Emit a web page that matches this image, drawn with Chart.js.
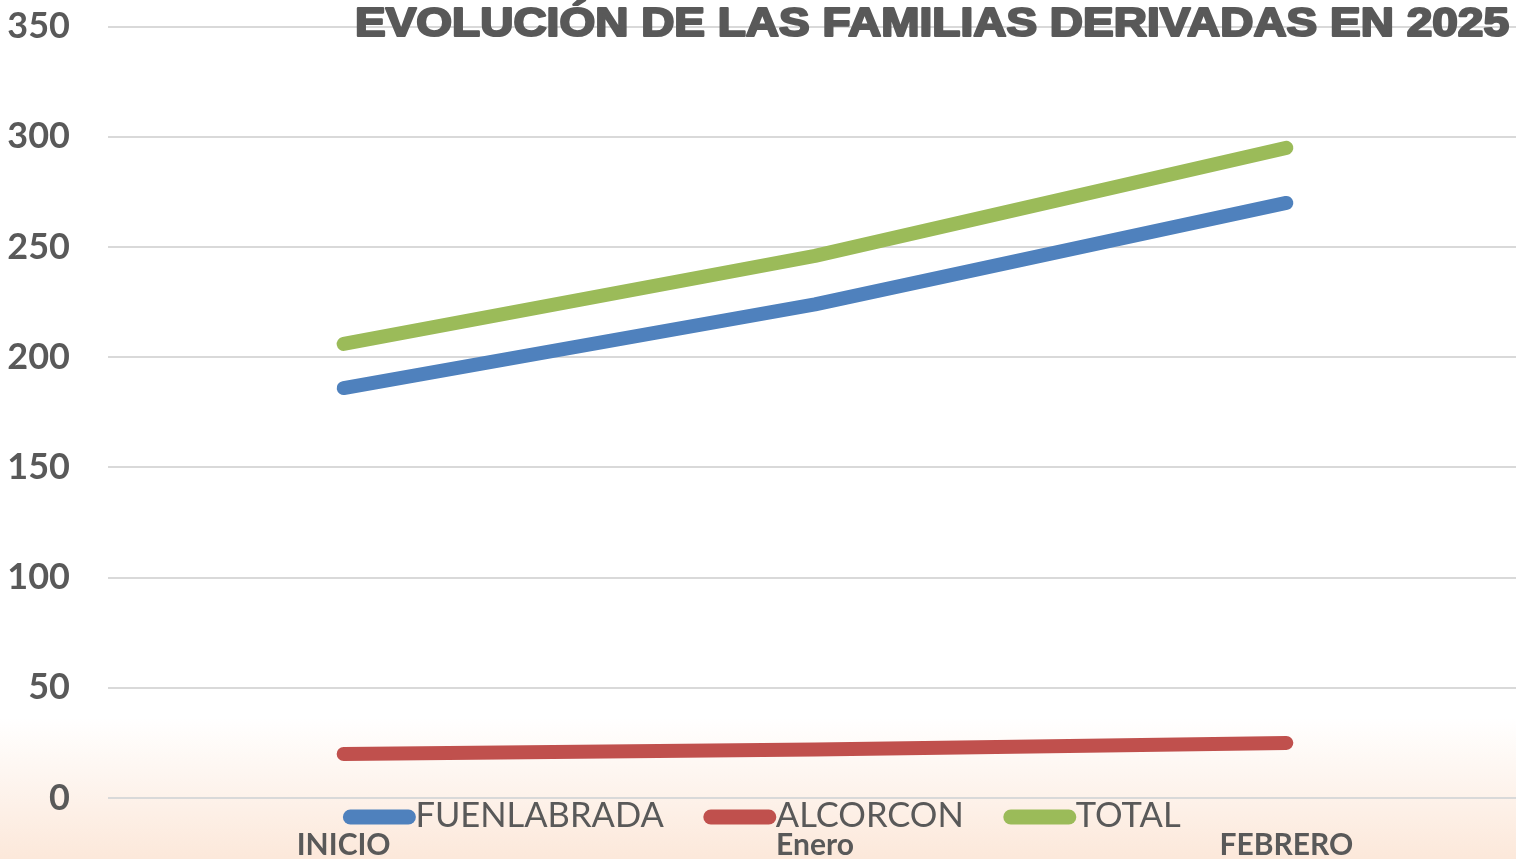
<!DOCTYPE html>
<html>
<head>
<meta charset="utf-8">
<script src="https://cdn.jsdelivr.net/npm/chart.js@4"></script>
<style>
html,body{margin:0;padding:0;background:#fff;overflow:hidden;}
#wrap{width:1516px;height:859px;position:relative;overflow:hidden;}
#c{position:absolute;left:0;top:-33px;}
</style>
</head>
<body>
<div id="wrap"><canvas id="c" width="1522" height="892"></canvas></div>
<script>
const categories = ["INICIO", "Enero", "FEBRERO"];
const fuenlabrada = [186, 224, 270];
const alcorcon = [20, 22, 25];
const total = [206, 246, 295];
const seriesNames = ["FUENLABRADA", "ALCORCON", "TOTAL"];
const titleText = "EVOLUCIÓN DE LAS FAMILIAS DERIVADAS EN 2025";
const yTicks = [0, 50, 100, 150, 200, 250, 300, 350];

const colors = ["#4F81BD", "#C0504D", "#9BBB59"];
const textColor = "#595959";
const VIEW_W = 1516;
const OFF_Y = 33; // canvas is shifted up by this many pixels

const bgPlugin = {
  id: "bg",
  beforeDraw(chart) {
    const ctx = chart.ctx;
    ctx.save();
    ctx.fillStyle = "#ffffff";
    ctx.fillRect(0, 0, chart.width, chart.height);
    const g0 = 718 + OFF_Y;
    const g = ctx.createLinearGradient(0, g0, 0, chart.height);
    g.addColorStop(0, "rgba(252,232,218,0)");
    g.addColorStop(1, "rgba(252,232,218,1)");
    ctx.fillStyle = g;
    ctx.fillRect(0, g0, chart.width, chart.height - g0);
    ctx.restore();
  }
};

const overlayPlugin = {
  id: "overlay",
  afterDraw(chart) {
    const ctx = chart.ctx;
    ctx.save();
    // Title
    ctx.font = "bold 40px 'Liberation Sans'";
    ctx.fillStyle = textColor;
    ctx.strokeStyle = textColor;
    ctx.lineWidth = 2.2;
    ctx.lineJoin = "round";
    ctx.textBaseline = "alphabetic";
    ctx.textAlign = "left";
    const tw = ctx.measureText(titleText).width;
    const targetW = 1154;
    const sx = targetW / tw;
    ctx.translate(355, 35.5 + OFF_Y);
    ctx.scale(sx, 1);
    ctx.fillText(titleText, 0, 0);
    ctx.strokeText(titleText, 0, 0);
    ctx.restore();

    // Legend
    ctx.save();
    ctx.font = "34.5px Lato";
    ctx.textBaseline = "middle";
    ctx.textAlign = "left";
    const sw = 72, gap = 40;
    const items = chart.data.datasets.map(d => ({label: d.label, color: d.borderColor, w: ctx.measureText(d.label).width}));
    let totalW = 0;
    items.forEach((it, i) => { totalW += sw + it.w + (i < items.length - 1 ? gap : 0); });
    let x = (VIEW_W - totalW) / 2 + 4;
    const y = 816 + OFF_Y;
    items.forEach(it => {
      ctx.strokeStyle = it.color;
      ctx.lineWidth = 15;
      ctx.lineCap = "round";
      ctx.beginPath();
      ctx.moveTo(x + 7, y + 1);
      ctx.lineTo(x + sw - 7, y + 1);
      ctx.stroke();
      ctx.fillStyle = textColor;
      ctx.fillText(it.label, x + sw, y);
      x += sw + it.w + gap;
    });
    ctx.restore();
  }
};

const mk = (label, data, color) => ({
  label, data,
  borderColor: color, backgroundColor: color,
  borderWidth: 14, borderCapStyle: "round", borderJoinStyle: "round",
  pointRadius: 0, pointHoverRadius: 0, tension: 0, fill: false
});

new Chart(document.getElementById("c"), {
  type: "line",
  data: {
    labels: categories,
    datasets: [
      mk(seriesNames[0], fuenlabrada, colors[0]),
      mk(seriesNames[1], alcorcon, colors[1]),
      mk(seriesNames[2], total, colors[2])
    ]
  },
  options: {
    responsive: false,
    animation: false,
    events: [],
    layout: { padding: { top: 0, right: 0, left: 0, bottom: 0 } },
    plugins: { legend: { display: false }, title: { display: false }, tooltip: { enabled: false } },
    scales: {
      x: {
        type: "category",
        offset: true,
        grid: { display: false, drawTicks: false },
        border: { display: false },
        ticks: { color: textColor, font: { family: "Lato", weight: "bold", size: 30 }, padding: 29, maxRotation: 0 },
        afterFit(s) { s.height = 61; }
      },
      y: {
        min: 0, max: 350,
        afterBuildTicks(s) { s.ticks = yTicks.map(v => ({ value: v })); },
        grid: { color: "#d9d9d9", lineWidth: 2, drawTicks: false },
        border: { display: false },
        ticks: { color: textColor, font: { family: "Lato", weight: "bold", size: 36 }, padding: 38 },
        afterFit(s) { s.width = 108; }
      }
    }
  },
  plugins: [bgPlugin, overlayPlugin]
});
</script>
</body>
</html>
